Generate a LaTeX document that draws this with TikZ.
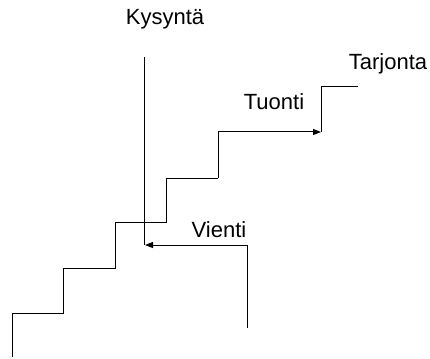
\documentclass[tikz,border=0pt]{standalone}
\usepackage{fontspec}
\setmainfont{Liberation Sans}
\usepackage{tikz}
\usetikzlibrary{arrows.meta}

\begin{document}
\begin{tikzpicture}[x=1pt,y=-1pt,>={Triangle[length=8pt,width=6pt]},line width=1pt,
    every node/.style={font=\fontsize{22}{26}\selectfont}]
    \useasboundingbox (0,0) rectangle (430,358);
    % staircase (supply) corners
    \coordinate (s0) at (12,357);
    \coordinate (s1) at (63,313);
    \coordinate (s2) at (115,268);
    \coordinate (s3) at (166,222);
    \coordinate (s4) at (218,178);
    \coordinate (s5) at (321,132);
    \coordinate (s6) at (358,87);
    % demand line and export
    \coordinate (d0) at (144,57);
    \coordinate (d1) at (144,245);
    \coordinate (v0) at (247,328);
    \coordinate (v1) at (145,245);

    \node (kysynta) at (165,19) {Kysyntä};
    \node (tarjonta) at (388,64) {Tarjonta};
    \node (tuonti) at (274,102) {Tuonti};
    \node (vienti) at (219,230) {Vienti};

    \draw (s0) |- (s1) |- (s2) |- (s3) |- (s4);
    \draw[->] (s4) |- (s5);
    \draw (s5) |- (s6);
    \draw (d0) -- (d1);
    \draw[->] (v0) |- (v1);
\end{tikzpicture}
\end{document}
